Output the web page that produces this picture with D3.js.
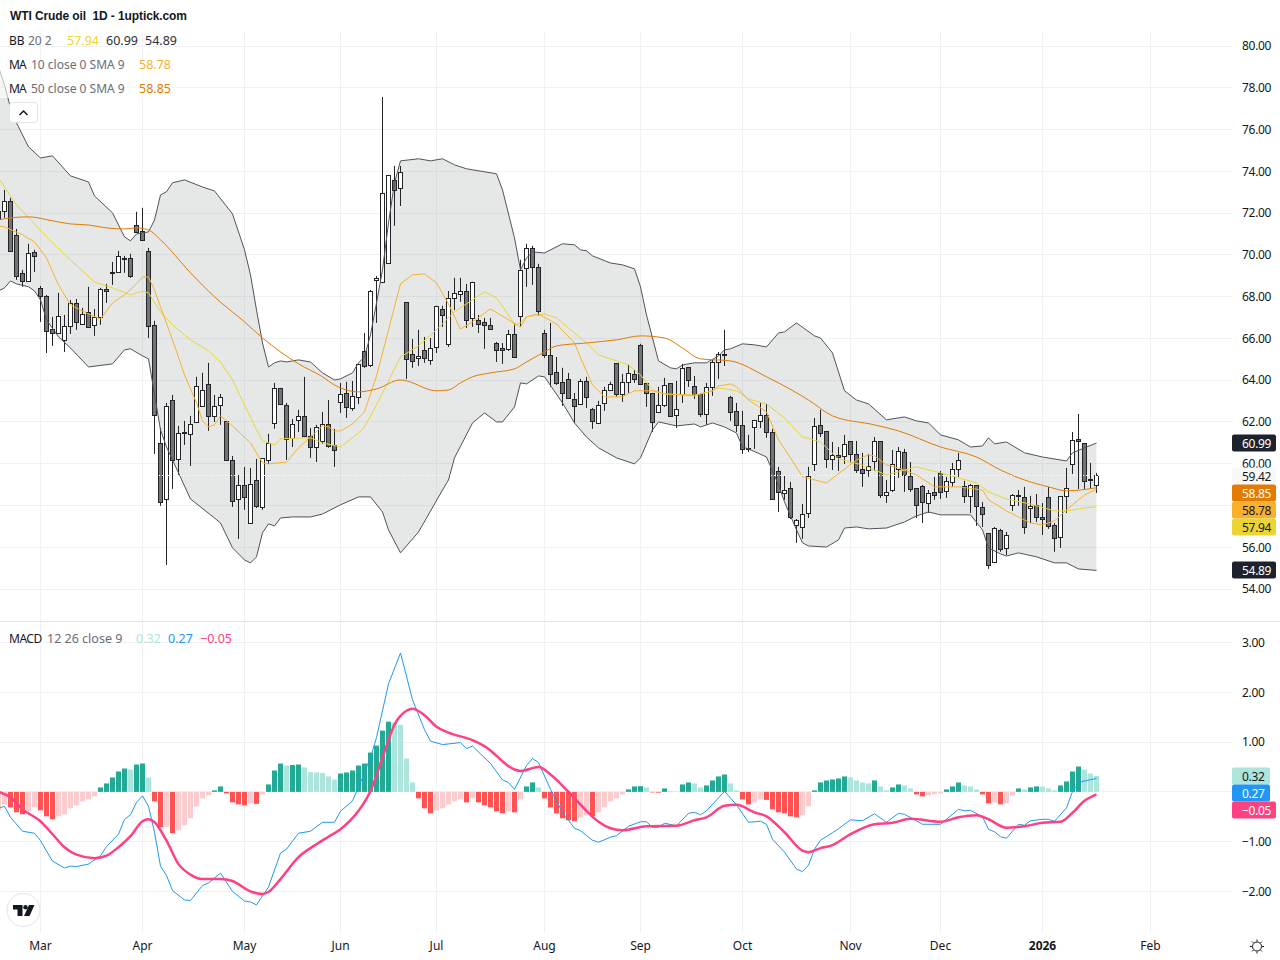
<!DOCTYPE html>
<html>
<head>
<meta charset="utf-8">
<title>WTI Crude oil 1D</title>
<script src="https://cdn.jsdelivr.net/npm/d3@7/dist/d3.min.js"></script>
<style>
  html, body { margin: 0; padding: 0; background: #fff; }
  svg { display: block; }
  text { font-family: "Noto Sans", sans-serif; font-size: 12px; fill: #131722; white-space: pre; }
</style>
</head>
<body>
<div id="chart"></div>
<script>
// === Candles (one entry per bar) ===
const open = [
  72.06,72.06,72.54,70.91,69.09,68.70,70.09,68.37,67.99,66.41,
  66.21,65.88,66.55,67.65,66.65,67.22,66.60,66.98,68.32,69.10,
  69.14,69.83,69.81,71.39,71.10,70.14,66.60,60.99,58.27,63.01,
  60.18,61.50,61.43,61.95,62.72,63.77,62.24,62.77,62.00,60.13,
  58.27,58.94,57.12,59.18,57.88,60.18,61.90,63.58,62.81,61.19,
  62.05,62.24,61.28,60.76,61.04,61.86,60.85,62.91,63.34,62.62,
  63.15,65.35,64.68,68.75,68.66,69.57,73.54,73.16,67.70,65.21,
  65.02,65.40,64.92,65.54,67.36,65.69,67.89,68.08,68.23,66.93,
  66.84,66.74,66.60,65.74,65.50,65.45,66.17,67.03,69.33,70.29,
  69.38,66.21,65.16,64.35,63.87,64.01,63.05,62.81,63.92,62.58,
  61.95,62.86,63.49,64.78,63.29,63.87,64.25,65.64,63.82,63.34,
  62.43,62.77,63.82,62.29,63.29,64.59,63.68,63.29,62.33,63.63,
  64.83,65.21,63.15,62.48,61.81,60.71,61.71,62.05,62.33,61.47,
  59.61,58.60,58.79,57.02,56.97,57.59,59.94,61.81,61.52,60.18,
  60.37,60.32,61.04,60.42,59.70,59.65,60.08,61.04,58.46,58.70,
  59.70,60.52,59.37,58.79,58.89,58.07,58.60,59.51,58.65,59.08,
  59.70,58.89,58.41,58.94,57.88,56.68,55.25,56.78,55.92,57.98,
  58.46,58.36,57.83,57.98,57.40,58.36,57.02,56.45,58.41,59.94,61.14,60.99,59.22,58.94
];
const high = [
  72.39,73.11,72.73,71.24,69.28,70.53,70.24,68.51,68.08,67.03,
  68.18,67.12,67.84,67.89,67.46,68.47,67.41,68.42,68.61,69.66,
  70.19,69.95,70.05,72.06,72.25,70.33,66.84,61.71,62.91,63.29,
  61.81,62.05,62.29,64.16,64.35,64.83,63.29,63.34,62.00,60.37,
  59.46,59.84,59.80,60.23,60.23,61.43,63.87,63.63,62.91,62.14,
  62.58,64.16,61.71,61.86,62.48,63.05,61.67,63.87,63.92,63.96,
  64.73,66.26,68.32,68.99,77.56,73.78,74.26,74.26,67.70,65.97,
  66.41,66.07,66.02,67.56,67.56,68.27,68.90,68.90,68.61,68.71,
  67.12,66.98,66.98,65.83,65.78,66.41,66.74,69.76,70.53,70.43,
  69.57,66.41,66.74,65.11,64.59,64.35,63.39,64.06,64.16,62.67,
  63.01,63.68,63.92,64.78,64.30,64.73,64.49,65.74,63.82,63.39,
  63.68,64.11,63.82,63.96,64.78,64.63,64.20,63.29,63.87,64.97,
  65.35,66.41,63.25,62.91,62.53,61.38,62.10,62.91,62.86,61.67,
  59.85,59.41,59.13,57.35,58.07,59.85,62.19,62.58,61.52,61.04,
  60.80,61.38,61.04,61.09,60.52,60.47,61.28,61.04,59.22,60.66,
  60.80,60.71,60.08,58.79,58.98,58.74,59.37,59.65,59.37,60.04,
  60.52,59.18,59.03,58.94,58.17,56.68,56.97,56.88,56.73,58.55,
  58.74,58.89,58.46,58.55,58.12,58.89,57.16,58.41,59.80,61.52,62.38,60.99,60.04,59.56
];
const low = [
  71.43,71.77,70.14,68.80,68.47,68.70,69.18,66.79,65.30,65.64,
  66.21,65.35,66.21,66.41,66.65,66.50,66.12,66.65,67.70,68.56,
  69.14,69.14,68.90,71.05,70.67,66.02,60.47,57.98,55.15,58.79,
  59.46,60.90,59.89,61.95,62.72,61.57,62.00,61.86,60.13,57.93,
  56.40,57.79,57.12,57.88,57.79,59.99,61.67,62.81,60.18,60.80,
  61.52,61.28,60.28,60.08,60.95,60.76,59.85,62.43,62.19,62.53,
  62.86,64.59,64.63,66.74,68.66,69.57,71.39,72.34,64.06,64.59,
  64.68,64.83,64.73,65.30,66.55,65.59,67.36,67.75,66.50,66.55,
  66.26,65.50,66.41,64.87,64.78,65.40,65.07,66.55,68.47,68.56,
  67.08,65.07,63.68,63.77,62.77,63.10,61.95,62.81,62.67,61.67,
  61.95,62.53,63.49,63.20,62.96,63.39,63.87,63.77,62.72,61.52,
  62.43,62.72,62.24,61.71,62.91,63.68,63.10,62.24,61.86,63.25,
  64.06,64.68,62.05,61.52,60.47,60.56,60.71,61.71,61.24,58.27,
  57.69,58.27,57.35,56.21,56.40,57.40,59.65,61.28,59.80,59.70,
  59.65,59.99,60.04,59.56,58.89,59.37,59.65,58.36,58.12,58.65,
  59.32,58.65,58.65,57.40,57.16,57.64,58.27,58.31,58.36,58.89,
  59.37,58.12,57.64,57.02,56.97,54.96,55.25,55.78,55.63,57.74,
  57.98,56.64,57.16,57.21,56.59,56.88,55.78,55.97,57.64,59.51,58.79,58.79,58.79,58.60
];
const close = [
  71.67,72.54,70.14,68.94,68.70,70.05,69.90,67.99,66.31,66.21,
  67.03,66.55,67.65,66.74,67.12,66.50,66.98,68.32,68.23,69.14,
  69.90,69.78,68.94,71.05,70.67,66.55,62.29,58.17,62.72,60.13,
  61.43,61.45,61.90,63.68,63.49,62.24,62.72,63.15,60.13,58.17,
  58.94,58.36,58.98,57.93,60.23,60.99,63.58,62.81,61.19,61.86,
  62.24,61.28,60.76,61.71,61.86,60.80,60.61,63.29,62.67,63.20,
  64.73,64.63,68.23,68.85,72.92,73.78,73.06,73.92,64.97,64.87,
  65.11,65.02,65.50,67.51,67.08,67.89,68.13,68.23,66.84,68.66,
  66.65,66.60,66.41,65.40,65.40,66.17,65.07,69.23,70.29,69.38,
  67.27,65.16,64.25,63.82,63.34,63.10,62.72,63.92,63.15,62.00,
  62.81,63.49,63.77,63.29,63.87,64.30,64.01,63.77,63.34,61.95,
  62.77,63.73,62.24,62.58,64.54,63.96,63.29,62.33,63.63,64.83,
  65.21,65.20,62.43,61.81,60.66,60.68,62.05,62.33,61.52,58.27,
  58.60,58.74,57.40,57.26,57.59,59.37,61.76,61.43,60.18,60.37,
  60.28,60.90,60.42,59.65,59.51,59.85,61.04,58.46,58.60,59.94,
  60.56,59.41,58.74,57.98,58.12,58.55,58.46,58.60,59.13,59.70,
  60.13,58.41,58.94,57.93,57.55,55.15,56.88,55.87,56.54,58.46,
  58.41,56.92,57.93,57.40,57.31,56.97,56.40,58.41,58.79,61.09,61.04,59.18,59.18,59.42
];

// === Overlay lines: [bar, price] at the kinks readable in the picture ===
const bbUpper = [[0,79.0],[1,78.14],[2,77.04],[3,76.32],[5,75.17],[7,74.64],[9,74.74],[12,73.78],[15,73.49],[16,72.82],[19,72.01],[21,70.86],[22,70.67],[23,71.0],[25,71.1],[26,71.67],[27,72.87],[28,73.02],[29,73.45],[31,73.59],[34,73.25],[36,73.06],[39,71.96],[41,70.24],[42,69.04],[43,67.36],[44,65.78],[45,64.63],[46,64.83],[47,64.92],[48,64.87],[50,64.97],[52,64.87],[54,64.35],[56,64.01],[57,64.06],[59,64.35],[60,64.83],[61,65.11],[62,66.17],[63,67.7],[64,69.28],[65,71.53],[66,73.45],[67,74.5],[70,74.6],[72,74.5],[74,74.6],[76,74.31],[78,74.12],[83,73.88],[84,73.11],[86,70.81],[87,69.28],[88,69.85],[89,70.14],[91,70.09],[94,70.53],[96,70.48],[97,70.24],[98,70.19],[99,69.95],[102,69.61],[104,69.52],[106,69.33],[107,68.47],[108,67.12],[110,64.92],[112,64.59],[113,64.54],[114,64.73],[116,64.83],[118,64.83],[120,65.16],[121,65.45],[122,65.5],[124,65.74],[126,65.69],[128,65.59],[130,66.26],[131,66.31],[133,66.74],[136,66.12],[137,66.02],[139,65.3],[141,63.49],[143,63.05],[145,62.86],[148,62.1],[151,62.24],[153,62.05],[155,61.95],[157,61.38],[160,61.14],[162,60.8],[164,60.85],[165,61.24],[166,60.95],[168,61.04],[171,60.52],[174,60.32],[178,60.13],[179,60.52],[181,60.76],[183,60.99]];
const bbLower = [[0,68.27],[1,68.42],[2,68.75],[3,68.61],[5,68.47],[6,68.27],[7,67.84],[8,66.89],[10,66.07],[12,65.54],[15,64.63],[19,64.78],[21,65.45],[22,65.5],[24,65.16],[25,65.02],[27,61.62],[28,60.8],[29,60.18],[32,58.31],[36,57.4],[37,57.16],[39,55.97],[41,55.39],[42,55.25],[43,55.54],[44,56.69],[45,57.12],[46,57.02],[47,57.4],[49,57.45],[52,57.45],[54,57.59],[57,58.03],[60,58.41],[62,58.41],[64,57.69],[65,56.83],[67,55.73],[70,56.73],[74,58.74],[75,59.22],[76,60.28],[79,61.95],[81,62.43],[83,62.0],[84,62.0],[86,62.72],[87,63.87],[88,63.82],[90,64.2],[91,64.16],[94,62.91],[96,61.95],[98,61.28],[100,60.76],[103,60.28],[106,59.99],[107,60.28],[109,61.62],[110,62.0],[113,61.81],[116,61.9],[117,61.76],[119,61.95],[121,61.76],[123,61.47],[124,60.8],[125,60.71],[128,60.32],[130,58.98],[131,58.17],[133,56.83],[134,56.21],[135,56.06],[138,56.01],[140,56.35],[141,56.92],[143,56.97],[145,56.88],[148,56.92],[151,57.21],[153,57.5],[155,57.69],[157,57.55],[162,57.55],[164,56.83],[165,55.97],[167,55.68],[168,55.58],[170,55.73],[173,55.54],[176,55.25],[178,55.25],[180,54.96],[183,54.89]];
const bbBasis = [[0,73.69],[3,72.39],[6,71.48],[9,70.57],[12,69.76],[16,68.7],[19,68.42],[22,68.08],[24,68.27],[25,68.18],[27,67.27],[29,66.65],[32,65.93],[35,65.4],[37,64.87],[39,64.01],[43,61.62],[44,61.09],[46,60.9],[47,61.19],[52,61.24],[54,61.0],[57,60.8],[60,61.47],[61,61.76],[63,62.81],[67,65.11],[70,65.64],[73,66.41],[76,67.27],[81,68.23],[83,67.94],[85,67.12],[86,66.65],[87,66.74],[88,67.03],[91,67.17],[93,66.98],[98,65.78],[100,65.21],[105,64.73],[107,64.25],[109,63.53],[111,63.34],[116,63.29],[119,63.49],[120,63.63],[123,63.49],[125,63.1],[128,62.86],[131,62.19],[134,61.28],[137,61.04],[140,60.23],[144,59.94],[148,59.46],[150,59.61],[153,59.85],[157,59.56],[160,59.32],[163,59.08],[165,58.65],[168,58.31],[172,58.07],[176,57.74],[178,57.74],[181,57.88],[183,57.94]];
const ma10 = [[0,71.39],[1,71.34],[4,70.96],[6,70.62],[8,69.85],[10,68.56],[12,67.6],[15,67.17],[17,66.93],[19,67.7],[21,68.08],[23,68.61],[24,68.94],[25,68.94],[26,68.32],[27,67.51],[29,65.93],[31,64.25],[33,62.91],[34,62.05],[35,61.76],[36,61.86],[37,62.29],[39,61.81],[42,60.99],[44,60.04],[45,59.99],[48,60.08],[50,60.76],[52,61.28],[54,61.81],[55,61.76],[56,61.57],[57,61.57],[59,61.9],[61,62.48],[63,64.2],[65,66.41],[67,68.61],[69,69.04],[71,69.09],[73,68.66],[75,67.65],[77,66.45],[79,66.79],[82,67.41],[85,66.89],[87,66.55],[88,67.03],[90,67.17],[93,66.69],[96,65.78],[97,65.07],[99,63.77],[101,63.2],[104,63.2],[106,63.49],[109,63.49],[111,63.34],[114,63.29],[116,63.25],[119,63.49],[120,63.72],[122,63.82],[123,63.68],[125,63.05],[128,62.48],[130,61.14],[132,60.28],[134,59.37],[138,59.08],[143,60.18],[145,60.42],[146,60.37],[148,59.94],[150,59.8],[153,59.46],[156,58.89],[160,58.89],[164,58.74],[165,58.27],[168,57.74],[172,57.16],[174,57.07],[176,57.26],[178,57.79],[181,58.5],[183,58.78]];
const ma50 = [[0,71.67],[2,71.77],[5,71.82],[9,71.63],[12,71.48],[15,71.43],[18,71.29],[21,71.24],[23,71.29],[25,71.19],[27,70.72],[32,69.14],[36,67.99],[41,66.79],[44,66.02],[50,64.78],[54,64.16],[56,63.77],[60,63.44],[63,63.58],[67,64.01],[73,63.49],[75,63.53],[77,63.87],[79,64.16],[82,64.35],[86,64.54],[88,64.87],[91,65.35],[93,65.64],[98,65.78],[103,65.93],[107,66.12],[111,66.02],[114,65.54],[117,65.02],[122,64.92],[128,64.16],[135,63.05],[139,62.29],[146,61.86],[150,61.57],[157,60.8],[163,60.32],[167,59.7],[171,59.22],[175,58.89],[178,58.7],[183,58.85]];

// === MACD pane ===
const histogram = [
  -0.38,-0.25,-0.31,-0.41,-0.45,-0.39,-0.31,-0.37,-0.49,-0.55,
  -0.49,-0.45,-0.33,-0.27,-0.19,-0.15,-0.09,0.09,0.17,0.29,
  0.41,0.47,0.45,0.55,0.57,0.29,-0.19,-0.71,-0.70,-0.83,
  -0.77,-0.67,-0.53,-0.29,-0.13,-0.07,0.03,0.11,-0.03,-0.21,
  -0.25,-0.27,-0.23,-0.24,-0.05,0.15,0.43,0.57,0.53,0.54,
  0.55,0.49,0.40,0.39,0.38,0.31,0.25,0.37,0.39,0.43,
  0.53,0.57,0.79,0.93,1.23,1.41,1.39,1.35,0.67,0.19,
  -0.13,-0.33,-0.43,-0.37,-0.33,-0.25,-0.19,-0.15,-0.21,-0.13,
  -0.21,-0.27,-0.31,-0.39,-0.43,-0.39,-0.41,-0.15,0.11,0.19,
  0.09,-0.13,-0.31,-0.43,-0.53,-0.57,-0.59,-0.51,-0.47,-0.49,
  -0.41,-0.31,-0.19,-0.13,-0.05,0.05,0.11,0.115,0.09,-0.01,
  -0.015,0.07,0.01,0.008,0.15,0.19,0.17,0.09,0.13,0.23,
  0.31,0.35,0.17,0.03,-0.15,-0.25,-0.21,-0.15,-0.16,-0.35,
  -0.41,-0.43,-0.49,-0.51,-0.47,-0.29,0.03,0.19,0.23,0.25,
  0.27,0.31,0.29,0.23,0.19,0.17,0.23,0.11,0.03,0.09,
  0.15,0.13,0.07,-0.05,-0.09,-0.07,-0.05,-0.03,0.05,0.11,
  0.19,0.13,0.11,0.05,-0.05,-0.23,-0.21,-0.25,-0.23,-0.07,
  0.07,0.05,0.09,0.11,0.105,0.07,0.03,0.13,0.21,0.41,
  0.51,0.45,0.37,0.32
];
const macdLine = [[0,-0.33],[1,-0.29],[2,-0.51],[4,-0.79],[6,-0.83],[7,-0.98],[9,-1.39],[11,-1.53],[12,-1.49],[13,-1.5],[15,-1.45],[17,-1.28],[18,-1.1],[20,-0.85],[21,-0.55],[22,-0.46],[23,-0.21],[24,-0.08],[25,-0.29],[26,-0.81],[27,-1.49],[28,-1.68],[29,-1.98],[31,-2.17],[32,-2.18],[34,-1.88],[35,-1.83],[37,-1.63],[39,-2.0],[41,-2.19],[42,-2.21],[43,-2.27],[45,-1.91],[47,-1.23],[48,-1.15],[50,-0.83],[52,-0.79],[54,-0.61],[56,-0.61],[57,-0.39],[59,-0.18],[60,0.09],[62,0.69],[63,1.09],[65,2.17],[67,2.79],[69,1.85],[71,1.25],[72,1.02],[74,0.95],[77,0.99],[78,0.87],[79,0.92],[82,0.57],[84,0.24],[85,0.19],[86,0.05],[88,0.53],[89,0.67],[90,0.59],[92,0.05],[94,-0.41],[96,-0.73],[97,-0.78],[99,-0.97],[100,-1.01],[102,-0.91],[103,-0.88],[105,-0.69],[107,-0.6],[108,-0.6],[109,-0.71],[110,-0.71],[111,-0.63],[113,-0.68],[115,-0.43],[116,-0.41],[117,-0.46],[118,-0.38],[121,0.01],[123,-0.26],[125,-0.61],[127,-0.59],[128,-0.65],[129,-0.95],[131,-1.21],[133,-1.55],[134,-1.6],[135,-1.47],[136,-1.15],[137,-0.97],[139,-0.82],[140,-0.74],[142,-0.56],[144,-0.58],[146,-0.44],[148,-0.61],[150,-0.43],[151,-0.45],[154,-0.65],[157,-0.65],[158,-0.55],[160,-0.35],[161,-0.38],[162,-0.37],[164,-0.5],[165,-0.75],[166,-0.8],[167,-0.9],[168,-0.93],[170,-0.65],[171,-0.67],[172,-0.58],[174,-0.55],[175,-0.55],[176,-0.59],[178,-0.32],[179,0.01],[180,0.18],[181,0.22],[183,0.27]];
const signalLine = [[0,0],[2,-0.11],[4,-0.35],[7,-0.59],[9,-0.85],[11,-1.11],[13,-1.26],[16,-1.33],[18,-1.28],[20,-1.11],[22,-0.89],[24,-0.59],[25,-0.55],[26,-0.61],[28,-0.98],[30,-1.45],[32,-1.66],[34,-1.75],[37,-1.75],[39,-1.79],[42,-2.0],[44,-2.05],[45,-2.01],[47,-1.75],[50,-1.31],[53,-1.05],[55,-0.9],[57,-0.75],[60,-0.38],[62,0.02],[64,0.69],[66,1.35],[68,1.63],[69,1.67],[71,1.54],[73,1.31],[75,1.19],[79,1.04],[81,0.92],[86,0.45],[87,0.42],[90,0.5],[92,0.35],[95,0],[98,-0.38],[100,-0.6],[102,-0.73],[104,-0.77],[108,-0.69],[113,-0.68],[116,-0.57],[118,-0.51],[121,-0.28],[123,-0.26],[126,-0.41],[128,-0.49],[131,-0.81],[134,-1.18],[135,-1.21],[137,-1.13],[139,-1.07],[142,-0.85],[146,-0.65],[149,-0.62],[152,-0.54],[157,-0.6],[160,-0.51],[163,-0.47],[165,-0.55],[168,-0.72],[171,-0.69],[174,-0.62],[177,-0.6],[179,-0.42],[181,-0.18],[183,-0.05]];

// === Axes content ===
const priceTicks = [54,56,58,60,62,64,66,68,70,72,74,76,78,80];
const priceLabelTicks = [54,56,60,62,64,66,68,70,72,74,76,78,80];
const macdTicks = [-2,-1,0,1,2,3];
const macdLabelTicks = [-2,-1,1,2,3];
const monthTicks = [7,24,41,57,73,91,107,124,142,157,174,192];
const monthLabels = ["Mar","Apr","May","Jun","Jul","Aug","Sep","Oct","Nov","Dec","2026","Feb"];

// === Colours ===
const colors = {
  grid: "#f0f1f4", sep: "#e0e3eb", band: "rgba(130,140,140,0.2)", bandLine: "#50535c",
  basis: "#ebd534", ma10: "#f9b12d", ma50: "#e27b00",
  wick: "#222428", downBody: "#747474", upBody: "#ffffff",
  up: "#22ab94", upLight: "#ace5dc", down: "#ff5252", downLight: "#fccbcd",
  macd: "#2196f3", signal: "#ff4081", muted: "#6a6d78"
};

const width = 1280, height = 960;
const svg = d3.select("#chart").append("svg").attr("width", width).attr("height", height);

// === Scales ===
const x = d3.scaleLinear().domain([0, 183]).range([-1.5, 1096.5]);
const yPrice = d3.scaleLinear().domain([54, 80]).range([589, 46]);
const yMacd = d3.scaleLinear().domain([-2, 3]).range([891.5, 642.5]);
const crisp = v => Math.round(v - 0.5) + 0.5;

// === Grid ===
const grid = svg.append("g").attr("stroke", colors.grid).attr("stroke-width", 1);
grid.selectAll(".v").data(monthTicks).join("line").attr("class", "v")
  .attr("x1", d => x(d)).attr("x2", d => x(d)).attr("y1", 32).attr("y2", 933);
grid.selectAll(".hp").data(priceTicks).join("line").attr("class", "hp")
  .attr("x1", 0).attr("x2", 1232).attr("y1", d => crisp(yPrice(d))).attr("y2", d => crisp(yPrice(d)));
grid.selectAll(".hm").data(macdTicks).join("line").attr("class", "hm")
  .attr("x1", 0).attr("x2", 1232).attr("y1", d => crisp(yMacd(d))).attr("y2", d => crisp(yMacd(d)));

svg.append("line").attr("x1", 0).attr("x2", width).attr("y1", 621.5).attr("y2", 621.5)
  .attr("stroke", colors.sep);

// === Bollinger band fill ===
const priceLine = d3.line().x(d => x(d[0])).y(d => yPrice(d[1]));
svg.append("path")
  .attr("d", priceLine([...bbUpper, ...bbLower.slice().reverse()]) + "Z")
  .attr("fill", colors.band);

// === Candles ===
const candles = svg.append("g").selectAll("g").data(d3.range(open.length)).join("g");
candles.append("line")
  .attr("x1", d => x(d)).attr("x2", d => x(d))
  .attr("y1", d => yPrice(high[d])).attr("y2", d => yPrice(low[d]))
  .attr("stroke", colors.wick).attr("stroke-width", 1);
candles.append("rect")
  .attr("x", d => x(d) - 2).attr("width", 4)
  .attr("y", d => crisp(yPrice(Math.max(open[d], close[d]))))
  .attr("height", d => Math.max(1, Math.round(Math.abs(yPrice(open[d]) - yPrice(close[d])))))
  .attr("fill", d => close[d] >= open[d] ? colors.upBody : colors.downBody)
  .attr("stroke", colors.wick).attr("stroke-width", 1);

// === Overlay lines ===
const overlays = [
  [bbUpper, colors.bandLine], [bbLower, colors.bandLine],
  [bbBasis, colors.basis], [ma10, colors.ma10]
];
svg.append("g").selectAll("path").data(overlays).join("path")
  .attr("d", d => priceLine(d[0]))
  .attr("fill", "none").attr("stroke", d => d[1]).attr("stroke-width", 1);
svg.append("path")
  .attr("d", d3.line().x(d => x(d[0])).y(d => yPrice(d[1])).curve(d3.curveMonotoneX)(ma50))
  .attr("fill", "none").attr("stroke", colors.ma50).attr("stroke-width", 1);

// last price dots
svg.append("line").attr("x1", 0).attr("x2", 1232)
  .attr("y1", crisp(yPrice(close[close.length - 1]))).attr("y2", crisp(yPrice(close[close.length - 1])))
  .attr("stroke", "#fff").attr("stroke-dasharray", "1 2");

// === MACD ===
const histColor = (v, i) => {
  const prev = histogram[i - 1];
  if (v >= 0) return v > prev ? colors.up : colors.upLight;
  return v < prev ? colors.down : colors.downLight;
};
svg.append("g").selectAll("rect").data(histogram).join("rect")
  .attr("x", (d, i) => x(i) - 2.5).attr("width", 5)
  .attr("y", d => yMacd(Math.max(d, 0)))
  .attr("height", d => Math.abs(yMacd(d) - yMacd(0)))
  .attr("fill", histColor);

const macdPath = d3.line().x(d => x(d[0])).y(d => yMacd(d[1]));
svg.append("path").attr("d", macdPath(macdLine))
  .attr("fill", "none").attr("stroke", colors.macd).attr("stroke-width", 1);
svg.append("path").attr("d", macdPath.curve(d3.curveMonotoneX)(signalLine))
  .attr("fill", "none").attr("stroke", colors.signal).attr("stroke-width", 2.5);

// === Axes ===
const fmt = d => d3.format(".2f")(d).replace("-", "\u2212");
const cleanAxis = g => {
  g.select(".domain").remove();
  g.selectAll(".tick line").remove();
  g.selectAll("text").attr("x", 0).attr("text-anchor", "start")
    .style("font-family", '"Noto Sans", sans-serif').style("font-size", "12px")
    .style("letter-spacing", "-0.3px").attr("fill", "#131722");
};
svg.append("g").attr("transform", "translate(1242,0)")
  .call(d3.axisRight(yPrice).tickValues(priceLabelTicks).tickFormat(fmt)).call(cleanAxis);
svg.append("g").attr("transform", "translate(1242,0)")
  .call(d3.axisRight(yMacd).tickValues(macdLabelTicks).tickFormat(fmt)).call(cleanAxis);

const timeAxis = svg.append("g").attr("transform", "translate(-0.5,933)")
  .call(d3.axisBottom(x).tickValues(monthTicks).tickFormat((d, i) => monthLabels[i]));
timeAxis.select(".domain").remove();
timeAxis.selectAll(".tick line").remove();
timeAxis.selectAll("text").attr("y", 8)
  .style("font-family", '"Noto Sans", sans-serif').style("font-size", "12px").attr("fill", "#131722")
  .style("font-weight", (d, i) => monthLabels[i] === "2026" ? "bold" : "normal");

// === Price tags (stacked downwards where they would collide) ===
const tags = [
  ["60.99", 60.99, "#1e222d", "#fff", 1276], ["59.42", 59.42, "#f8f8f8", "#131722", 1276],
  ["58.85", 58.85, colors.ma50, "#fff", 1276], ["58.78", 58.78, colors.ma10, "#131722", 1276],
  ["57.94", 57.94, colors.basis, "#131722", 1276], ["54.89", 54.89, "#1e222d", "#fff", 1276]
];
const macdTags = [
  ["0.32", 0.32, colors.upLight, "#131722", 1270], ["0.27", 0.27, colors.macd, "#fff", 1270],
  ["\u22120.05", -0.05, colors.signal, "#fff", 1276]
];
const tagHeight = 17;
const drawTags = (data, scale) => {
  let bottom = -Infinity;
  const placed = data.map(d => {
    const cy = Math.max(scale(d[1]), bottom + tagHeight);
    bottom = cy;
    return { d, cy };
  });
  const g = svg.append("g").selectAll("g").data(placed).join("g")
    .attr("transform", p => `translate(1232,${Math.round(p.cy)})`);
  g.append("rect").attr("y", -tagHeight / 2).attr("height", tagHeight).attr("width", p => p.d[4] - 1232)
    .attr("rx", 2).attr("fill", p => p.d[2]);
  g.append("text").attr("x", 10).attr("y", 4.5).style("letter-spacing", "-0.3px")
    .style("fill", p => p.d[3]).text(p => p.d[0]);
};
drawTags(tags, yPrice);
drawTags(macdTags, yMacd);

// === Legends ===
svg.append("rect").attr("x", 0).attr("y", 58).attr("width", 172).attr("height", 40)
  .attr("fill", "rgba(255,255,255,0.6)");
svg.append("text").attr("x", 10).attr("y", 20)
  .style("font-family", '"Liberation Sans", Arial, sans-serif').style("font-weight", "bold")
  .style("letter-spacing", "-0.1px")
  .text("WTI Crude oil  1D - 1uptick.com");

const legendRows = [
  [45, [["BB", 9, "#131722", 12, 0], ["20 2", 28, colors.muted, 12, 0], ["57.94", 67, colors.basis, 12.5, 0], ["60.99", 106, "#2a2e39", 12.5, 0], ["54.89", 145, "#2a2e39", 12.5, 0]]],
  [69, [["MA", 9, "#131722", 12, -1], ["10 close 0 SMA 9", 31, colors.muted, 12, 0], ["58.78", 139, colors.ma10, 12.5, 0]]],
  [93, [["MA", 9, "#131722", 12, -1], ["50 close 0 SMA 9", 31, colors.muted, 12, 0], ["58.85", 139, colors.ma50, 12.5, 0]]],
  [643, [["MACD", 9, "#131722", 12, -0.5], ["12 26 close 9", 47, colors.muted, 12.5, 0], ["0.32", 136, colors.upLight, 12.5, 0], ["0.27", 168, colors.macd, 12.5, 0], ["\u22120.05", 200, colors.signal, 12.5, 0]]]
];
legendRows.forEach(([y, items]) => {
  svg.append("g").selectAll("text").data(items).join("text")
    .attr("x", d => d[1]).attr("y", y).style("fill", d => d[2])
    .style("font-size", d => d[3] + "px").style("letter-spacing", d => d[4] + "px").text(d => d[0]);
});

// === Small icons ===
svg.append("rect").attr("x", 9.5).attr("y", 102.5).attr("width", 28).attr("height", 20).attr("rx", 3)
  .attr("fill", "#fff").attr("stroke", colors.sep);
svg.append("path").attr("d", "M19.5 115 L23.5 111 L27.5 115").attr("fill", "none")
  .attr("stroke", "#131722").attr("stroke-width", 1.5);

const logo = svg.append("g");
logo.append("circle").attr("cx", 23.5).attr("cy", 910).attr("r", 16.5)
  .attr("fill", "#fff").attr("stroke", colors.sep);
logo.append("path").attr("d", "M13 905h9.5v11h-5v-6.5H13z").attr("fill", "#131722");
logo.append("circle").attr("cx", 25.5).attr("cy", 907.2).attr("r", 2.2).attr("fill", "#131722");
logo.append("path").attr("d", "M29 905h5.5l-5 11h-5.5z").attr("fill", "#131722");

const sun = svg.append("g").attr("transform", "translate(1257,946.5)")
  .attr("fill", "none").attr("stroke", "#131722");
sun.append("circle").attr("r", 4.5);
d3.range(8).forEach(k => {
  const a = k * Math.PI / 4;
  sun.append("line").attr("x1", 5 * Math.cos(a)).attr("y1", 5 * Math.sin(a))
    .attr("x2", 7 * Math.cos(a)).attr("y2", 7 * Math.sin(a));
});
</script>
</body>
</html>
